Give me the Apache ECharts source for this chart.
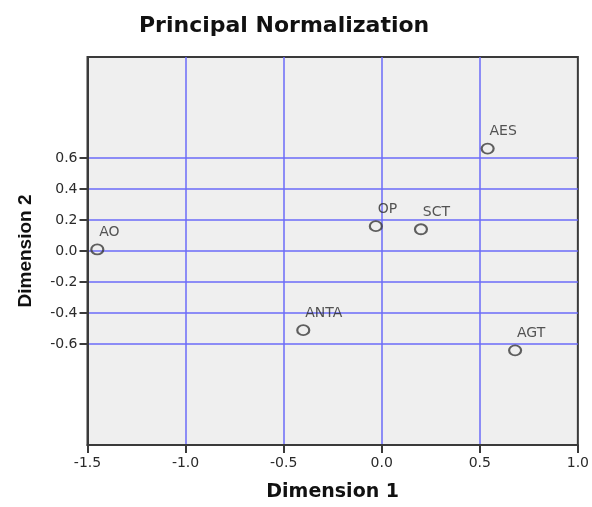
<!DOCTYPE html>
<html>
<head>
<meta charset="utf-8">
<script src="https://cdn.jsdelivr.net/npm/echarts@6/dist/echarts.min.js"></script>
<style>
html,body{margin:0;padding:0;background:#fff;}
#chart{width:592px;height:507px;}
</style>
</head>
<body>
<div id="chart"></div>
<script>
var labels = ['AES', 'OP', 'SCT', 'AO', 'ANTA', 'AGT'];
var dim1 = [0.54, -0.03, 0.20, -1.45, -0.40, 0.68];
var dim2 = [0.66, 0.16, 0.14, 0.01, -0.51, -0.64];
var xTicks = [-1.5, -1.0, -0.5, 0.0, 0.5, 1.0];
var yTicks = [-0.6, -0.4, -0.2, 0.0, 0.2, 0.4, 0.6];

var points = labels.map(function (n, i) { return { name: n, value: [dim1[i], dim2[i]] }; });

var chart = echarts.init(document.getElementById('chart'), null, { renderer: 'canvas' });
var gridBlue = '#6b6bf8';
var textCol = '#2a2a2a';
chart.setOption({
  animation: false,
  title: {
    text: 'Principal Normalization',
    left: 139, top: 15, padding: 0,
    textStyle: { fontFamily: 'DejaVu Sans', fontWeight: 'bold', fontSize: 22, color: '#111' }
  },
  grid: {
    left: 87.5, right: 14, top: 57, bottom: 60,
    show: true, backgroundColor: '#efefef', borderColor: '#3a3a3a', borderWidth: 2
  },
  xAxis: {
    type: 'value', min: -1.5, max: 1.0, interval: 0.5,
    name: 'Dimension 1', nameLocation: 'middle', nameGap: 38,
    nameTextStyle: { fontFamily: 'DejaVu Sans', fontWeight: 'bold', fontSize: 19, color: '#111' },
    axisLine: { show: true, onZero: false, lineStyle: { color: '#3a3a3a', width: 2 } },
    axisTick: { show: true, length: 8, lineStyle: { color: '#3a3a3a', width: 2 } },
    axisLabel: { margin: 11, fontFamily: 'DejaVu Sans', fontSize: 14, color: textCol,
      formatter: function (v) { return v.toFixed(1); } },
    splitLine: { show: true, showMinLine: false, showMaxLine: false, lineStyle: { color: gridBlue, width: 1.5 } }
  },
  yAxis: {
    type: 'value', min: -1.25, max: 1.25,
    name: 'Dimension 2', nameLocation: 'middle', nameGap: 52, nameRotate: 90,
    nameTextStyle: { fontFamily: 'Liberation Sans', fontWeight: 'bold', fontSize: 19, color: '#111' },
    axisLine: { show: true, onZero: false, lineStyle: { color: '#3a3a3a', width: 2 } },
    axisTick: { show: true, length: 8, customValues: yTicks, lineStyle: { color: '#3a3a3a', width: 2 } },
    axisLabel: { margin: 10, fontFamily: 'DejaVu Sans', fontSize: 14, color: textCol, customValues: yTicks,
      formatter: function (v) { return v.toFixed(1); } },
    splitLine: { show: true, lineStyle: { color: gridBlue, width: 1.5 } }
  },
  series: [{
    type: 'scatter',
    data: points,
    symbol: 'circle',
    symbolSize: [12, 10],
    itemStyle: { color: 'rgba(0,0,0,0)', borderColor: '#3a3a3a', borderWidth: 2 },
    label: {
      show: true, position: [9, -11], align: 'left', verticalAlign: 'middle',
      formatter: '{b}', fontFamily: 'DejaVu Sans', fontSize: 14, color: textCol
    },
    z: 5
  }]
});
</script>
</body>
</html>
